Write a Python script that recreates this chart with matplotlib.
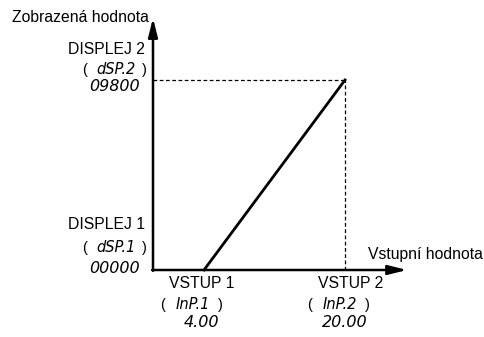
import matplotlib
matplotlib.use("Agg")
import matplotlib.pyplot as plt

# scaling diagram: input value -> displayed value
input_pts = [4.00, 20.00]
display_pts = [0, 9800]
input_labels = ['VSTUP 1', 'VSTUP 2']
input_codes = ['InP.1', 'InP.2']
input_values = ['4.00', '20.00']
display_labels = ['DISPLEJ 1', 'DISPLEJ 2']
display_codes = ['dSP.1', 'dSP.2']
display_values = ['00000', '09800']

plt.rcParams['font.family'] = ['Liberation Sans', 'DejaVu Sans']

fig = plt.figure(figsize=(4.84, 3.37), dpi=100)
ax = fig.add_axes([0, 0, 1, 1])
ax.axis('off')
# data limits chosen so the diagram fills the frame like the original
ax.set_xlim(-19.15, 35.77)
ax.set_ylim(-3456, 13926)

x0, y0 = -1.79, 0          # axis origin
x_end, y_end = 27.04, 12998

arrow = dict(arrowstyle='-|>,head_length=0.8,head_width=0.2', lw=1.8, color='black',
             mutation_scale=14, shrinkA=0, shrinkB=0)
ax.annotate('', xy=(x_end, y0), xytext=(x0 - 0.1, y0), arrowprops=arrow)
ax.annotate('', xy=(x0, y_end), xytext=(x0, y0 - 40), arrowprops=arrow)

# helper lines
ax.plot([x0, input_pts[1]], [display_pts[1]] * 2, ls=(0, (3, 2)), lw=0.9, color='black')
ax.plot([input_pts[1]] * 2, [y0, display_pts[1]], ls=(0, (3, 2)), lw=0.9, color='black')

# the scaling line
ax.plot(input_pts, display_pts, color='black', lw=2)

fig.text(12 / 484, 1 - 18 / 337, 'Zobrazená hodnota', fontsize=11.3, ha='left', va='center')
fig.text(368 / 484, 1 - 255 / 337, 'Vstupní hodnota', fontsize=11.3, ha='left', va='center')

code_style = dict(fontsize=10.5, fontstyle='italic', family='DejaVu Sans', color='black')
val_style = dict(fontsize=11.5, fontstyle='italic', family='DejaVu Sans', color='black')
txt = dict(fontsize=11.3)


def put(xy, dx, dy, s, ha='center', **kw):
    ax.annotate(s, xy=xy, xytext=(dx, -dy), textcoords='offset pixels',
                ha=ha, va='center', **kw)


# input labels below the x axis
in_offsets = [(-2, -11, -3), (6, -5, 0)]
for xv, lab, code, val, (dl, dc, dv) in zip(input_pts, input_labels, input_codes,
                                            input_values, in_offsets):
    put((xv, y0), dl, 14, lab, **txt)
    put((xv, y0), dc - 30, 35, '(', fontsize=10.5)
    put((xv, y0), dc, 35, code, **code_style)
    put((xv, y0), dc + 27, 35, ')', fontsize=10.5)
    put((xv, y0), dv, 53, val, **val_style)

# display labels left of the y axis
disp_dy = [(-45, -22, -1), (-30, -10, 7)]
for yv, lab, code, val, (dl, dc, dv) in zip(display_pts, display_labels, display_codes,
                                            display_values, disp_dy):
    put((x0, yv), -8, dl, lab, ha='right', **txt)
    put((x0, yv), -68, dc, '(', fontsize=10.5)
    put((x0, yv), -37, dc, code, **code_style)
    put((x0, yv), -6, dc, ')', ha='right', fontsize=10.5)
    put((x0, yv), -13, dv, val, ha='right', **val_style)

fig.savefig('out.png', dpi=100)
